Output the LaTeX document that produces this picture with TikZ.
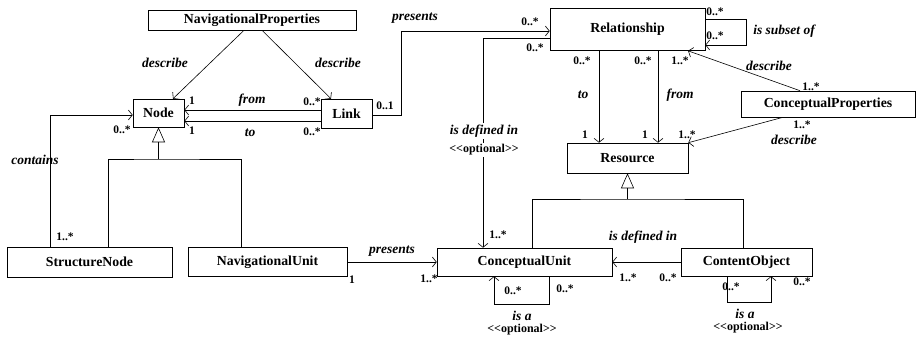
\documentclass[tikz,border=0pt]{standalone}
\usepackage{fontspec}
\setmainfont{Liberation Serif}
\usetikzlibrary{arrows.meta}

\tikzset{
  cls/.style={draw, inner sep=0pt, font=\fontsize{13.8}{15}\selectfont\bfseries},
  lbl/.style={inner sep=0pt, font=\fontsize{13.5}{15}\selectfont\bfseries\itshape},
  opt/.style={inner sep=0pt, font=\fontsize{12}{13}\selectfont\bfseries},
  mult/.style={inner sep=0pt, font=\fontsize{11.5}{12}\selectfont\bfseries},
  assoc/.style={-{Straight Barb[length=4pt,width=10pt]}},
  gen/.style={-{Triangle[open,length=15pt,width=13pt]}},
}
\newcommand{\optional}{{<}{<}optional{>}{>}}

\begin{document}
\begin{tikzpicture}[x=1pt, y=-1pt, line width=0.6pt]

  \useasboundingbox (0,0) rectangle (917,337);

  % classes
  \node[cls, minimum width=208, minimum height=20] (navprop) at (252,20) {NavigationalProperties};
  \node[cls, minimum width=51, minimum height=28] (node) at (158.5,113) {Node};
  \node[cls, minimum width=51, minimum height=29] (link) at (346.5,113.5) {Link};
  \node[cls, minimum width=155, minimum height=42] (rel) at (627.5,29.5) {Relationship};
  \node[cls, minimum width=121, minimum height=30] (res) at (627.5,158) {Resource};
  \node[cls, minimum width=174, minimum height=26] (cprop) at (828,104) {ConceptualProperties};
  \node[cls, minimum width=165, minimum height=30] (snode) at (89.5,262) {StructureNode};
  \node[cls, minimum width=159, minimum height=29] (navunit) at (267.5,262) {NavigationalUnit};
  \node[cls, minimum width=175, minimum height=28] (cunit) at (524.5,262) {ConceptualUnit};
  \node[cls, minimum width=131, minimum height=28] (cobj) at (746.5,262) {ContentObject};

  \coordinate (ngen) at (158.5,159);
  \coordinate (rgen) at (627.5,199);

  % navigational side
  \draw[assoc] ([xshift=-8pt]navprop.south) -- ([xshift=14.5pt]node.north);
  \draw[assoc] ([xshift=10pt]navprop.south) -- ([xshift=-15.5pt]link.north);
  \draw[assoc] ([yshift=3.5pt]link.west) -- ([yshift=3pt]node.east);
  \draw[assoc] ([yshift=-7.5pt]link.west) -- ([yshift=-8pt]node.east);
  \draw[assoc] ([yshift=-1.5pt]link.east) -- ++(29,0) |- ([yshift=-1.5pt]rel.west);
  \draw[gen] (ngen) -- (node.south);
  \draw ([xshift=18.5pt]snode.north) |- (ngen) -| ([xshift=-26.5pt]navunit.north);
  \draw[assoc] ([xshift=-39.5pt]snode.north) |- ([yshift=-2pt]node.west);
  \draw[assoc] (navunit.east) -- (cunit.west);

  % conceptual side
  \draw[assoc] ([yshift=-8.5pt]rel.west) -| ([xshift=-41.5pt]cunit.north);
  \draw[assoc] ([xshift=-28.5pt]rel.south) -- ([xshift=-28.5pt]res.north);
  \draw[assoc] ([xshift=30.5pt]rel.south) -- ([xshift=30.5pt]res.north);
  \draw[assoc] ([yshift=10.5pt]rel.east) -- ++(41,0) |- ([yshift=-15.5pt]rel.east);
  \draw[assoc] ([xshift=-28pt]cprop.north) -- ([xshift=60.5pt]rel.south);
  \draw[assoc] ([xshift=-45pt]cprop.south) -- (res.north east);
  \draw[gen] (rgen) -- (res.south);
  \draw ([xshift=7.5pt]cunit.north) |- (rgen) -| ([xshift=-3.5pt]cobj.north);
  \draw[assoc] (cobj.west) -- (cunit.east);
  \draw[assoc] ([xshift=24.5pt]cunit.south) -- ++(0,28) -| ([xshift=-30.5pt]cunit.south);
  \draw[assoc] ([xshift=-19.5pt]cobj.south) -- ++(0,26) -| ([xshift=24.5pt]cobj.south);

  % role names
  \node[lbl] (l1) at (165,63) {describe};
  \node[lbl] (l2) at (338,63) {describe};
  \node[lbl] (l3) at (252,100) {from};
  \node[lbl] (l4) at (250,133) {to};
  \node[lbl] (l5) at (415,18) {presents};
  \node[lbl, fill=white, inner sep=2pt] (l6) at (484,131) {is defined in};
  \node[opt, fill=white, inner sep=2pt] (o1) at (484,150) {\optional};
  \node[lbl] (l7) at (583,95) {to};
  \node[lbl] (l8) at (680,95) {from};
  \node[lbl] (l9) at (784,31) {is subset of};
  \node[lbl] (l10) at (769,66) {describe};
  \node[lbl] (l11) at (794,140) {describe};
  \node[lbl] (l12) at (35,160) {contains};
  \node[lbl] (l13) at (392,251) {presents};
  \node[lbl] (l14) at (643,237) {is defined in};
  \node[lbl] (l15) at (522,316) {is a};
  \node[opt] (o2) at (522,330) {\optional};
  \node[lbl] (l16) at (745,314) {is a};
  \node[opt] (o3) at (748,328) {\optional};

  % multiplicities
  \node[mult] (m1) at (192,101) {1};
  \node[mult] (m2) at (192,131) {1};
  \node[mult] (m3) at (312,102) {0..*};
  \node[mult] (m4) at (312,132) {0..*};
  \node[mult] (m5) at (122,130) {0..*};
  \node[mult] (m6) at (385,106) {0..1};
  \node[mult] (m7) at (530,22) {0..*};
  \node[mult] (m8) at (535,48) {0..*};
  \node[mult] (m9) at (582,61) {0..*};
  \node[mult] (m10) at (643,61) {0..*};
  \node[mult] (m11) at (680,61) {1..*};
  \node[mult] (m12) at (585,135) {1};
  \node[mult] (m13) at (645,135) {1};
  \node[mult] (m14) at (687,135) {1..*};
  \node[mult] (m15) at (715,12) {0..*};
  \node[mult] (m16) at (715,36) {0..*};
  \node[mult] (m17) at (811,87) {1..*};
  \node[mult] (m18) at (802,125) {1..*};
  \node[mult] (m19) at (498,235) {1..*};
  \node[mult] (m20) at (65,237) {1..*};
  \node[mult] (m21) at (352,280) {1};
  \node[mult] (m22) at (429,279) {1..*};
  \node[mult] (m23) at (513,291) {0..*};
  \node[mult] (m24) at (565,289) {0..*};
  \node[mult] (m25) at (628,278) {1..*};
  \node[mult] (m26) at (668,278) {0..*};
  \node[mult] (m27) at (731,287) {0..*};
  \node[mult] (m28) at (802,282) {0..*};

\end{tikzpicture}
\end{document}
